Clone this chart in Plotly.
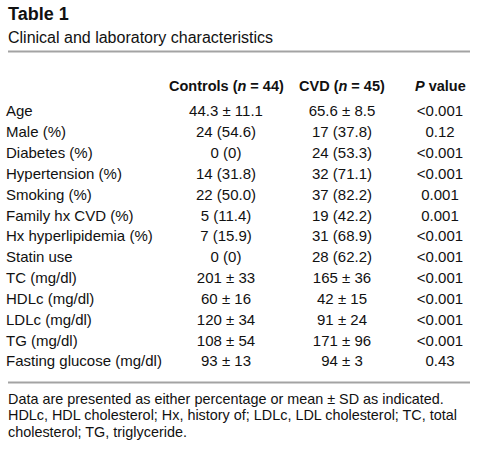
import plotly.graph_objects as go

# ---- data ----
row_labels = [
    "Age", "Male (%)", "Diabetes (%)", "Hypertension (%)", "Smoking (%)",
    "Family hx CVD (%)", "Hx hyperlipidemia (%)", "Statin use", "TC (mg/dl)",
    "HDLc (mg/dl)", "LDLc (mg/dl)", "TG (mg/dl)", "Fasting glucose (mg/dl)",
]
controls = [
    "44.3 ± 11.1", "24 (54.6)", "0 (0)", "14 (31.8)", "22 (50.0)", "5 (11.4)",
    "7 (15.9)", "0 (0)", "201 ± 33", "60 ± 16", "120 ± 34", "108 ± 54", "93 ± 13",
]
cvd = [
    "65.6 ± 8.5", "17 (37.8)", "24 (53.3)", "32 (71.1)", "37 (82.2)", "19 (42.2)",
    "31 (68.9)", "28 (62.2)", "165 ± 36", "42 ± 15", "91 ± 24", "171 ± 96", "94 ± 3",
]
p_values = [
    "<0.001", "0.12", "<0.001", "<0.001", "0.001", "0.001",
    "<0.001", "<0.001", "<0.001", "<0.001", "<0.001", "<0.001", "0.43",
]
column_headers = ["<b>Controls (<i>n</i> = 44)</b>", "<b>CVD (<i>n</i> = 45)</b>", "<b><i>P</i> value</b>"]
title = "Table 1"
subtitle = "Clinical and laboratory characteristics"
footnote_lines = [
    "Data are presented as either percentage or mean ± SD as indicated.",
    "HDLc, HDL cholesterol; Hx, history of; LDLc, LDL cholesterol; TC, total",
    "cholesterol; TG, triglyceride.",
]

# ---- style ----
W, H = 481, 450
FONT = "Liberation Sans, Arial, Helvetica, sans-serif"
TXT = "#111111"
RULE = "#a3a3a3"
label_x = 6
col_x = [226, 342, 440]
body_size = 15
header_size = 14.5

def py(px):
    return 1 - px / H

fig = go.Figure()
fig.add_trace(go.Scatter(
    x=[label_x] * len(row_labels), y=row_labels, text=row_labels, mode="text",
    textposition="middle right", textfont=dict(family=FONT, size=body_size, color=TXT),
    hoverinfo="skip", showlegend=False))
for cx, vals in zip(col_x, [controls, cvd, p_values]):
    fig.add_trace(go.Scatter(
        x=[cx] * len(row_labels), y=row_labels, text=vals, mode="text",
        textposition="middle center", textfont=dict(family=FONT, size=body_size, color=TXT),
        hoverinfo="skip", showlegend=False))

annotations = [
    dict(text="<b>" + title + "</b>", x=6 / W, y=py(14), xref="paper", yref="paper",
         xanchor="left", yanchor="middle", showarrow=False,
         font=dict(family=FONT, size=18, color=TXT)),
    dict(text=subtitle, x=6 / W, y=py(38), xref="paper", yref="paper",
         xanchor="left", yanchor="middle", showarrow=False,
         font=dict(family=FONT, size=16, color=TXT)),
]
for cx, h in zip(col_x, column_headers):
    annotations.append(dict(text=h, x=cx, y=py(86.5), xref="x", yref="paper",
                            xanchor="center", yanchor="middle", showarrow=False,
                            font=dict(family=FONT, size=header_size, color=TXT)))
for i, line in enumerate(footnote_lines):
    annotations.append(dict(text=line, x=6 / W, y=py(399 + i * 16.3), xref="paper", yref="paper",
                            xanchor="left", yanchor="middle", showarrow=False,
                            font=dict(family=FONT, size=14.4, color=TXT)))

shapes = [
    dict(type="line", xref="paper", yref="paper", x0=8 / W, x1=470 / W, y0=py(51.5), y1=py(51.5),
         line=dict(color=RULE, width=2)),
    dict(type="line", xref="paper", yref="paper", x0=8 / W, x1=470 / W, y0=py(382.5), y1=py(382.5),
         line=dict(color=RULE, width=2)),
]

n = len(row_labels)
row_h = 20.83
top = 112.7 - row_h / 2
bottom = top + n * row_h
fig.update_layout(
    width=W, height=H, margin=dict(l=0, r=0, t=0, b=0),
    paper_bgcolor="white", plot_bgcolor="white",
    xaxis=dict(range=[0, W], visible=False, fixedrange=True),
    yaxis=dict(type="category", categoryarray=row_labels, range=[n - 0.5, -0.5],
               domain=[py(bottom), py(top)], visible=False, fixedrange=True),
    annotations=annotations, shapes=shapes,
)
fig.write_html("out.html", config=dict(displayModeBar=False),
               post_script="document.body.style.margin='0';")
